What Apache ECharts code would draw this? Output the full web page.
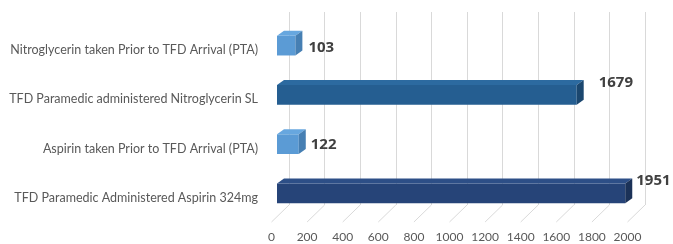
<!DOCTYPE html>
<html>
<head>
<meta charset="utf-8">
<script src="https://cdn.jsdelivr.net/npm/echarts@6/dist/echarts.min.js"></script>
<style>
  html, body { margin: 0; padding: 0; background: #fff; }
  #main { width: 673px; height: 244px; }
</style>
</head>
<body>
<div id="main"></div>
<script>
// categories top -> bottom
var categories = [
  'Nitroglycerin taken Prior to TFD Arrival (PTA)',
  'TFD Paramedic administered Nitroglycerin SL',
  'Aspirin taken Prior to TFD Arrival (PTA)',
  'TFD Paramedic Administered Aspirin 324mg'
];
var counts = [103, 1679, 122, 1951];
var ticks = [0, 200, 400, 600, 800, 1000, 1200, 1400, 1600, 1800, 2000];

// face colours: front / top / side
var barColors = [
  ['#5b9bd5', '#67a7df', '#467fb3'],
  ['#255e91', '#2c6aa0', '#1b476f'],
  ['#5b9bd5', '#67a7df', '#467fb3'],
  ['#264478', '#2d4f87', '#1b3258']
];
// excel puts the 3d labels a bit oddly, nudge them by hand
var labelNudge = [[13, 2], [22, -12], [12, 1], [11, -13]];

var DEPTH_X = 7, DEPTH_Y = -5;      // bar depth
var FLOOR_X = -17.5, FLOOR_Y = 17;  // back wall -> front floor edge

var chart = echarts.init(document.getElementById('main'), null, { renderer: 'canvas' });

function barItem(params, api) {
  var v = api.value(0), cat = api.value(1), i = params.dataIndex;
  var p0 = api.coord([0, cat]), p1 = api.coord([v, cat]);
  var h = api.size([0, 1])[1] * 0.4;
  var x0 = p0[0], x1 = p1[0], yt = p0[1] - h / 2, yb = p0[1] + h / 2;
  var c = barColors[i];
  return {
    type: 'group',
    children: [
      { type: 'rect', shape: { x: x0, y: yt, width: x1 - x0, height: h }, style: { fill: c[0] } },
      { type: 'polygon', shape: { points: [[x0, yt], [x1, yt], [x1 + DEPTH_X, yt + DEPTH_Y], [x0 + DEPTH_X, yt + DEPTH_Y]] }, style: { fill: c[1] } },
      { type: 'polygon', shape: { points: [[x1, yt], [x1 + DEPTH_X, yt + DEPTH_Y], [x1 + DEPTH_X, yb + DEPTH_Y], [x1, yb]] }, style: { fill: c[2] } },
      {
        type: 'text',
        x: x1 + labelNudge[i][0], y: p0[1] + labelNudge[i][1],
        style: {
          text: String(v), fill: '#404040', font: 'bold 15px "Open Sans", sans-serif',
          align: 'left', verticalAlign: 'middle'
        }
      }
    ]
  };
}

function floorItem(params, api) {
  var p = api.coord([api.value(0), 0]);
  return {
    type: 'line',
    shape: { x1: p[0], y1: p[1], x2: p[0] + FLOOR_X, y2: p[1] + FLOOR_Y },
    style: { stroke: '#d9d9d9', lineWidth: 1 }
  };
}

chart.setOption({
  animation: false,
  grid: [
    { left: 289, top: 12, width: 356, height: 193 },      // back wall
    { left: 277, top: 21, width: 357, height: 197 },      // bars
    { left: 271.5, top: 12, width: 356, height: 210 },    // front floor edge
    { left: 277, top: 25.5, width: 357, height: 197 }     // category labels
  ],
  xAxis: [
    {
      gridIndex: 0, type: 'value', min: 0, max: 2000, interval: 200,
      axisLine: { show: false }, axisTick: { show: false }, axisLabel: { show: false },
      splitLine: { show: true, lineStyle: { color: '#d9d9d9', width: 1 } }
    },
    {
      gridIndex: 1, type: 'value', min: 0, max: 2000,
      axisLine: { show: false }, axisTick: { show: false }, axisLabel: { show: false },
      splitLine: { show: false }
    },
    {
      gridIndex: 2, type: 'value', min: 0, max: 2000, interval: 200,
      axisLine: { show: false }, axisTick: { show: false }, splitLine: { show: false },
      axisLabel: {
        margin: 9, color: '#595959', fontSize: 12, fontFamily: 'Lato',
        formatter: function (v) { return String(v); }
      }
    },
    { gridIndex: 3, type: 'value', min: 0, max: 2000, show: false }
  ],
  yAxis: [
    { gridIndex: 0, type: 'value', min: 0, max: 1, show: false },
    { gridIndex: 1, type: 'category', data: categories, inverse: true, show: false },
    { gridIndex: 2, type: 'value', min: 0, max: 1, show: false },
    {
      gridIndex: 3, type: 'category', data: categories, inverse: true,
      axisLine: { show: false }, axisTick: { show: false }, splitLine: { show: false },
      axisLabel: { margin: 19, color: '#595959', fontSize: 12.5, fontFamily: 'Lato' }
    }
  ],
  series: [
    {
      type: 'custom', xAxisIndex: 0, yAxisIndex: 0,
      renderItem: floorItem,
      data: ticks.map(function (t) { return [t]; }),
      silent: true, z: 1
    },
    {
      type: 'custom', xAxisIndex: 1, yAxisIndex: 1,
      renderItem: barItem,
      encode: { x: 0, y: 1 },
      data: counts.map(function (c, i) { return [c, i]; }),
      z: 3
    }
  ]
});
</script>
</body>
</html>
